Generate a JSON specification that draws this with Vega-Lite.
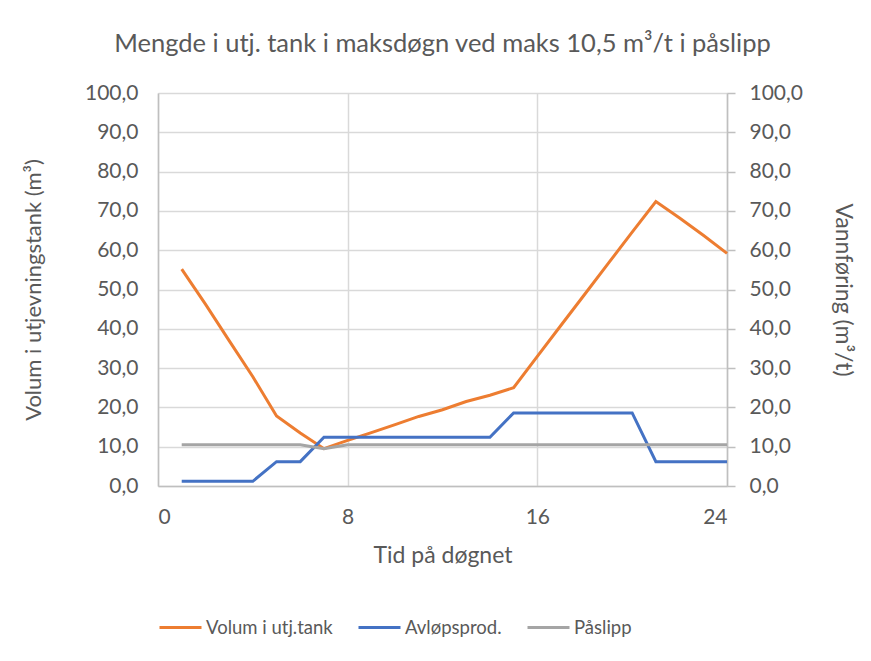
{
  "$schema": "https://vega.github.io/schema/vega-lite/v6.json",
  "width": 569,
  "height": 393,
  "autosize": "none",
  "padding": {"left": 158, "top": 93, "right": 144, "bottom": 175},
  "background": "white",
  "title": {
    "text": "Mengde i utj. tank i maksdøgn ved maks 10,5 m³/t i påslipp",
    "font": "Lato",
    "fontSize": 25.5,
    "fontWeight": "normal",
    "color": "#595959",
    "anchor": "middle",
    "offset": 25
  },
  "data": {
    "values": [
      {"t": 1, "serie": "Volum i utj.tank", "v": 55.2},
      {"t": 2, "serie": "Volum i utj.tank", "v": 46.3},
      {"t": 3, "serie": "Volum i utj.tank", "v": 37.0},
      {"t": 4, "serie": "Volum i utj.tank", "v": 27.8},
      {"t": 5, "serie": "Volum i utj.tank", "v": 17.8},
      {"t": 6, "serie": "Volum i utj.tank", "v": 13.5},
      {"t": 7, "serie": "Volum i utj.tank", "v": 9.5},
      {"t": 8, "serie": "Volum i utj.tank", "v": 11.6},
      {"t": 9, "serie": "Volum i utj.tank", "v": 13.6},
      {"t": 10, "serie": "Volum i utj.tank", "v": 15.6},
      {"t": 11, "serie": "Volum i utj.tank", "v": 17.7},
      {"t": 12, "serie": "Volum i utj.tank", "v": 19.4},
      {"t": 13, "serie": "Volum i utj.tank", "v": 21.5},
      {"t": 14, "serie": "Volum i utj.tank", "v": 23.1},
      {"t": 15, "serie": "Volum i utj.tank", "v": 25.0},
      {"t": 16, "serie": "Volum i utj.tank", "v": 33.0},
      {"t": 17, "serie": "Volum i utj.tank", "v": 40.9},
      {"t": 18, "serie": "Volum i utj.tank", "v": 48.8},
      {"t": 19, "serie": "Volum i utj.tank", "v": 56.7},
      {"t": 20, "serie": "Volum i utj.tank", "v": 64.6},
      {"t": 21, "serie": "Volum i utj.tank", "v": 72.4},
      {"t": 22, "serie": "Volum i utj.tank", "v": 68.2},
      {"t": 23, "serie": "Volum i utj.tank", "v": 63.8},
      {"t": 24, "serie": "Volum i utj.tank", "v": 59.2},
      {"t": 1, "serie": "Avløpsprod.", "v": 1.2},
      {"t": 2, "serie": "Avløpsprod.", "v": 1.2},
      {"t": 3, "serie": "Avløpsprod.", "v": 1.2},
      {"t": 4, "serie": "Avløpsprod.", "v": 1.2},
      {"t": 5, "serie": "Avløpsprod.", "v": 6.2},
      {"t": 6, "serie": "Avløpsprod.", "v": 6.2},
      {"t": 7, "serie": "Avløpsprod.", "v": 12.4},
      {"t": 8, "serie": "Avløpsprod.", "v": 12.4},
      {"t": 9, "serie": "Avløpsprod.", "v": 12.4},
      {"t": 10, "serie": "Avløpsprod.", "v": 12.4},
      {"t": 11, "serie": "Avløpsprod.", "v": 12.4},
      {"t": 12, "serie": "Avløpsprod.", "v": 12.4},
      {"t": 13, "serie": "Avløpsprod.", "v": 12.4},
      {"t": 14, "serie": "Avløpsprod.", "v": 12.4},
      {"t": 15, "serie": "Avløpsprod.", "v": 18.6},
      {"t": 16, "serie": "Avløpsprod.", "v": 18.6},
      {"t": 17, "serie": "Avløpsprod.", "v": 18.6},
      {"t": 18, "serie": "Avløpsprod.", "v": 18.6},
      {"t": 19, "serie": "Avløpsprod.", "v": 18.6},
      {"t": 20, "serie": "Avløpsprod.", "v": 18.6},
      {"t": 21, "serie": "Avløpsprod.", "v": 6.2},
      {"t": 22, "serie": "Avløpsprod.", "v": 6.2},
      {"t": 23, "serie": "Avløpsprod.", "v": 6.2},
      {"t": 24, "serie": "Avløpsprod.", "v": 6.2},
      {"t": 1, "serie": "Påslipp", "v": 10.5},
      {"t": 2, "serie": "Påslipp", "v": 10.5},
      {"t": 3, "serie": "Påslipp", "v": 10.5},
      {"t": 4, "serie": "Påslipp", "v": 10.5},
      {"t": 5, "serie": "Påslipp", "v": 10.5},
      {"t": 6, "serie": "Påslipp", "v": 10.5},
      {"t": 7, "serie": "Påslipp", "v": 9.5},
      {"t": 8, "serie": "Påslipp", "v": 10.5},
      {"t": 9, "serie": "Påslipp", "v": 10.5},
      {"t": 10, "serie": "Påslipp", "v": 10.5},
      {"t": 11, "serie": "Påslipp", "v": 10.5},
      {"t": 12, "serie": "Påslipp", "v": 10.5},
      {"t": 13, "serie": "Påslipp", "v": 10.5},
      {"t": 14, "serie": "Påslipp", "v": 10.5},
      {"t": 15, "serie": "Påslipp", "v": 10.5},
      {"t": 16, "serie": "Påslipp", "v": 10.5},
      {"t": 17, "serie": "Påslipp", "v": 10.5},
      {"t": 18, "serie": "Påslipp", "v": 10.5},
      {"t": 19, "serie": "Påslipp", "v": 10.5},
      {"t": 20, "serie": "Påslipp", "v": 10.5},
      {"t": 21, "serie": "Påslipp", "v": 10.5},
      {"t": 22, "serie": "Påslipp", "v": 10.5},
      {"t": 23, "serie": "Påslipp", "v": 10.5},
      {"t": 24, "serie": "Påslipp", "v": 10.5}
    ]
  },
  "encoding": {
    "x": {
      "field": "t",
      "type": "quantitative",
      "scale": {"domain": [0, 24], "nice": false},
      "axis": {
        "values": [0, 8, 16, 24],
        "title": "Tid på døgnet",
        "ticks": false,
        "labelPadding": 20,
        "titlePadding": 17,
        "domainColor": "#bfbfbf",
        "domainWidth": 1.5,
        "gridColor": "#d9d9d9",
        "gridWidth": 1.5
      }
    },
    "color": {
      "field": "serie",
      "type": "nominal",
      "scale": {
        "domain": ["Volum i utj.tank", "Avløpsprod.", "Påslipp"],
        "range": ["#ED7D31", "#4472C4", "#A5A5A5"]
      },
      "legend": {
        "title": null,
        "orient": "bottom",
        "direction": "horizontal",
        "symbolType": "stroke",
        "symbolSize": 1764,
        "symbolStrokeWidth": 3,
        "labelFont": "Lato",
        "labelFontSize": 18.5,
        "labelColor": "#595959",
        "columnPadding": 19,
        "labelOffset": 3,
        "offset": 38
      }
    }
  },
  "layer": [
    {
      "transform": [{"filter": "datum.serie === 'Volum i utj.tank'"}],
      "mark": {"type": "line", "strokeWidth": 3},
      "encoding": {
        "y": {
          "field": "v",
          "type": "quantitative",
          "scale": {"domain": [0, 100], "nice": false},
          "axis": {
            "title": "Volum i utjevningstank (m³)",
            "values": [0, 10, 20, 30, 40, 50, 60, 70, 80, 90, 100],
            "labelExpr": "replace(format(datum.value, '.1f'), '.', ',')",
            "ticks": false,
            "labelPadding": 20,
            "titlePadding": 39,
            "titleFontSize": 22,
            "domainColor": "#bfbfbf",
            "domainWidth": 1.5,
            "gridColor": "#d9d9d9",
            "gridWidth": 1.5
          }
        }
      }
    },
    {
      "transform": [{"filter": "datum.serie !== 'Volum i utj.tank'"}],
      "mark": {"type": "line", "strokeWidth": 3},
      "encoding": {
        "y": {
          "field": "v",
          "type": "quantitative",
          "scale": {"domain": [0, 100], "nice": false},
          "axis": {
            "orient": "right",
            "title": "Vannføring (m³/t)",
            "values": [0, 10, 20, 30, 40, 50, 60, 70, 80, 90, 100],
            "labelExpr": "replace(format(datum.value, '.1f'), '.', ',')",
            "grid": false,
            "tickSize": 8,
            "tickColor": "#bfbfbf",
            "tickWidth": 1.5,
            "labelPadding": 14,
            "titlePadding": 28,
            "domainColor": "#bfbfbf",
            "domainWidth": 1.5
          }
        }
      }
    }
  ],
  "resolve": {"scale": {"y": "independent"}},
  "config": {
    "view": {"stroke": null},
    "axis": {
      "labelFont": "Lato",
      "labelFontSize": 21,
      "labelColor": "#595959",
      "titleFont": "Lato",
      "titleFontSize": 23,
      "titleFontWeight": "normal",
      "titleColor": "#595959"
    }
  }
}
